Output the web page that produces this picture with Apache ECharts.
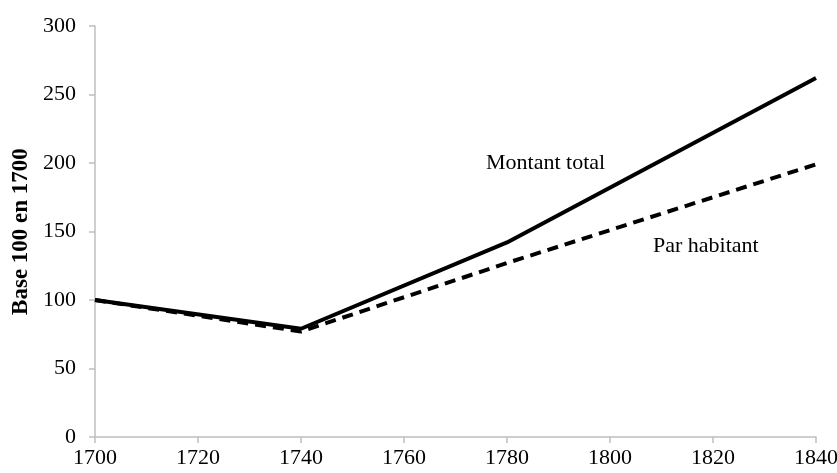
<!DOCTYPE html>
<html><head><meta charset="utf-8">
<script src="https://cdn.jsdelivr.net/npm/echarts@6/dist/echarts.min.js"></script>
<style>html,body{margin:0;padding:0;background:#fff}#c{width:837px;height:473px}</style>
</head><body><div id="c"></div>
<script>
const years = [1700, 1740, 1780, 1840];
const montantTotal = [100, 79, 142, 262];
const parHabitant = [100, 77, 127, 199];
const xTicks = [1700, 1720, 1740, 1760, 1780, 1800, 1820, 1840];
const yTicks = [0, 50, 100, 150, 200, 250, 300];

const font = '"Liberation Serif", "Times New Roman", serif';
const chart = echarts.init(document.getElementById('c'), null, {renderer: 'canvas'});
const axisCol = '#bfbfbf';
chart.setOption({
  animation: false,
  backgroundColor: '#fff',
  grid: {left: 95, right: 21, top: 26, bottom: 36, containLabel: false, outerBoundsMode: 'none'},
  xAxis: {
    type: 'value', min: xTicks[0], max: xTicks[xTicks.length-1], interval: 20,
    axisLine: {show: true, lineStyle: {color: axisCol, width: 1.5}},
    axisTick: {show: true, length: 6, lineStyle: {color: axisCol, width: 1.5}},
    splitLine: {show: false},
    axisLabel: {fontFamily: font, fontSize: 22, color: '#000', margin: 10,
                formatter: v => String(v)}
  },
  yAxis: {
    type: 'value', min: yTicks[0], max: yTicks[yTicks.length-1], interval: 50,
    name: 'Base 100 en 1700', nameLocation: 'middle', nameGap: 60,
    nameTextStyle: {fontFamily: font, fontSize: 23, fontWeight: 'bold', color: '#000'},
    axisLine: {show: true, lineStyle: {color: axisCol, width: 1.5}},
    axisTick: {show: true, length: 6, lineStyle: {color: axisCol, width: 1.5}},
    splitLine: {show: false},
    axisLabel: {fontFamily: font, fontSize: 22, color: '#000', margin: 19,
                formatter: v => String(v)}
  },
  series: [
    {name: 'Montant total', type: 'line', data: years.map((y,i)=>[y, montantTotal[i]]),
     symbol: 'none', lineStyle: {color: '#000', width: 4}},
    {name: 'Par habitant', type: 'line', data: years.map((y,i)=>[y, parHabitant[i]]),
     symbol: 'none', lineStyle: {color: '#000', width: 4, type: [11, 7]}}
  ],
  graphic: [
    {type: 'text', x: 486, y: 163, style: {text: 'Montant total', font: '22px ' + font, fill: '#000', verticalAlign: 'middle'}},
    {type: 'text', x: 653, y: 246, style: {text: 'Par habitant', font: '22px ' + font, fill: '#000', verticalAlign: 'middle'}}
  ]
});
</script></body></html>
